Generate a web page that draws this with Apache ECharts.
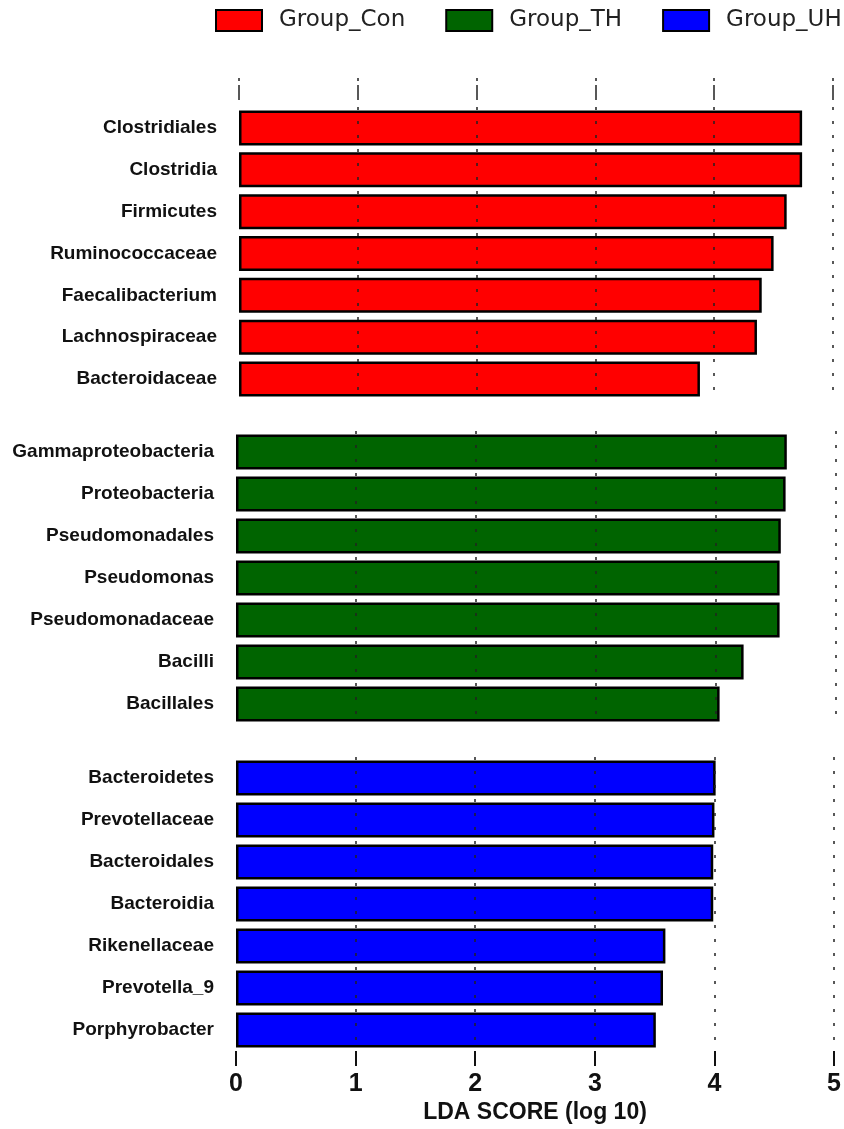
<!DOCTYPE html>
<html><head><meta charset="utf-8">
<script src="https://cdn.jsdelivr.net/npm/echarts@6/dist/echarts.min.js"></script>
<style>html,body{margin:0;padding:0;background:#fff}#c{width:844px;height:1129px}</style>
</head><body><div id="c"></div>
<script>
const groupNames = ['Group_Con', 'Group_TH', 'Group_UH'];
const groupColors = ['#ff0000', '#006400', '#0000ff'];
const conCats = ['Clostridiales','Clostridia','Firmicutes','Ruminococcaceae','Faecalibacterium','Lachnospiraceae','Bacteroidaceae'];
const conVals = [4.74, 4.74, 4.61, 4.50, 4.40, 4.36, 3.88];
const thCats = ['Gammaproteobacteria','Proteobacteria','Pseudomonadales','Pseudomonas','Pseudomonadaceae','Bacilli','Bacillales'];
const thVals = [4.59, 4.58, 4.54, 4.53, 4.53, 4.23, 4.03];
const uhCats = ['Bacteroidetes','Prevotellaceae','Bacteroidales','Bacteroidia','Rikenellaceae','Prevotella_9','Porphyrobacter'];
const uhVals = [4.01, 4.00, 3.99, 3.99, 3.59, 3.57, 3.51];
const xTicks = [0, 1, 2, 3, 4, 5];

const chart = echarts.init(document.getElementById('c'), null, {renderer: 'canvas'});
const labelFont = {fontFamily: 'Liberation Sans, Arial, sans-serif', fontWeight: 'bold', fontSize: 19, color: '#111'};
const dotted = {color: '#222', width: 1.5, type: [3, 11]};

function xAx(gi, extra) {
  return Object.assign({
    type: 'value', gridIndex: gi, min: xTicks[0], max: xTicks[xTicks.length - 1], interval: 1,
    z: 5,
    axisLine: {show: false},
    axisTick: {show: false},
    axisLabel: {show: false},
    splitLine: {show: true, showMinLine: false, lineStyle: dotted}
  }, extra || {});
}
function yAx(gi, cats) {
  return {
    type: 'category', gridIndex: gi, data: cats, inverse: true,
    axisLine: {show: false}, axisTick: {show: false},
    axisLabel: Object.assign({margin: 22}, labelFont)
  };
}
function ser(gi, name, vals, color) {
  return {
    type: 'bar', name: name, xAxisIndex: gi, yAxisIndex: gi, data: vals,
    barWidth: 35,
    itemStyle: {color: color, borderColor: '#000', borderWidth: 2.5},
    emphasis: {disabled: true}, z: 2
  };
}

const option = {
  animation: false,
  backgroundColor: '#fff',
  legend: {
    top: 9, left: 215, width: 629, padding: 0,
    itemWidth: 46, itemHeight: 21, itemGap: 40,
    icon: 'rect',
    data: groupNames,
    textStyle: {fontFamily: 'DejaVu Sans', fontSize: 23, color: '#222', padding: [0, 0, 0, 12]},
    itemStyle: {borderColor: '#000', borderWidth: 2}
  },
  grid: [
    {left: 239, right: 11, top: 107, height: 293},
    {left: 236, right: 8, top: 431, height: 294},
    {left: 236, right: 8, top: 757, height: 294}
  ],
  xAxis: [
    xAx(0, {position: 'top', axisTick: {show: true, inside: false, length: 29,
      lineStyle: {color: '#222', width: 1.5, type: [15, 4, 3, 7], dashOffset: 22}}}),
    xAx(1),
    xAx(2, {position: 'bottom',
      axisTick: {show: true, inside: false, length: 15, lineStyle: {color: '#111', width: 2}},
      axisLabel: {show: true, margin: 21, fontFamily: 'Liberation Sans, Arial, sans-serif', fontWeight: 'bold', fontSize: 25, color: '#111'},
      name: 'LDA SCORE (log 10)', nameLocation: 'middle', nameGap: 50,
      nameTextStyle: {fontFamily: 'Liberation Sans, Arial, sans-serif', fontWeight: 'bold', fontSize: 23, color: '#111'}})
  ],
  yAxis: [yAx(0, conCats), yAx(1, thCats), yAx(2, uhCats)],
  series: [
    ser(0, groupNames[0], conVals, groupColors[0]),
    ser(1, groupNames[1], thVals, groupColors[1]),
    ser(2, groupNames[2], uhVals, groupColors[2])
  ]
};
chart.setOption(option);
</script></body></html>
